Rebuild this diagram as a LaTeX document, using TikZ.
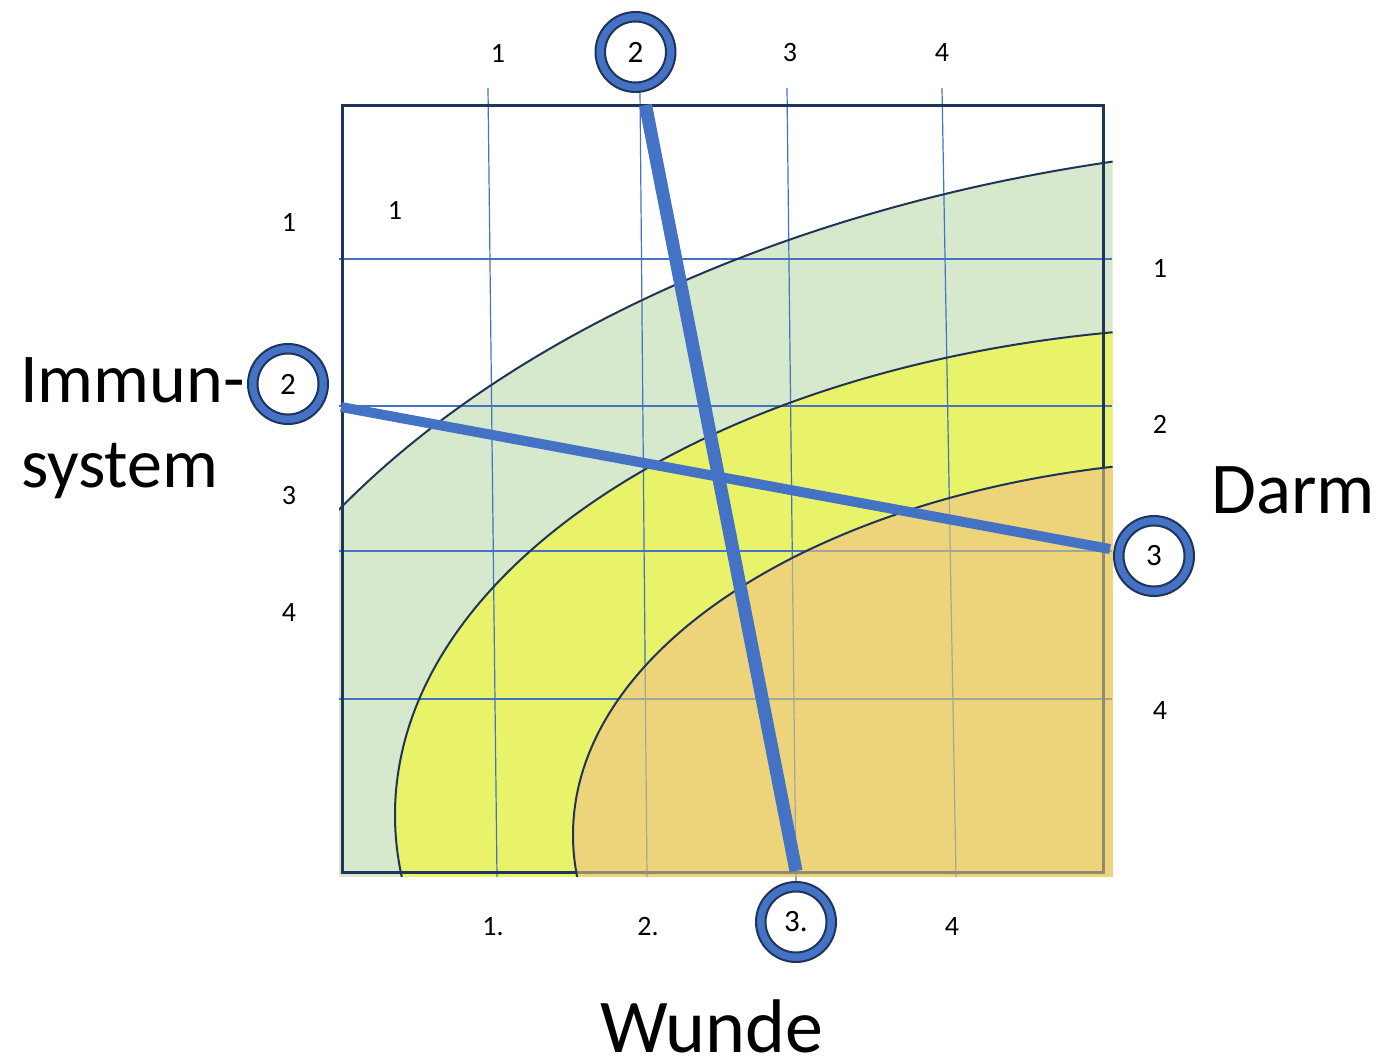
\documentclass[tikz,border=0pt]{standalone}
\usepackage{fontspec}
\setmainfont{Carlito}
\definecolor{navy}{HTML}{1F3458}
\definecolor{ablue}{HTML}{4472C4}
\definecolor{lgreen}{HTML}{D6E9CC}
\definecolor{lyellow}{HTML}{E9F36A}
\definecolor{lorange}{HTML}{EDD37A}
\begin{document}
\begin{tikzpicture}[x=1pt,y=-1pt,
  lab/.style={font=\fontsize{28}{33}\selectfont, inner sep=0pt},
  big/.style={font=\fontsize{70}{84}\selectfont, inner sep=0pt, anchor=base west},
  gridline/.style={ablue, line width=1.2pt},
  curve/.style={navy, line width=2pt},
  ringout/.style={circle, draw=navy, line width=2pt, fill=ablue, minimum size=80pt, inner sep=0pt},
  ringin/.style={circle, draw=navy, line width=2pt, fill=white, minimum size=61pt, inner sep=0pt, font=\fontsize{31}{36}\selectfont},
  outerell/.style={insert path={(1400,900) ellipse [x radius=1237pt, y radius=759pt]}},
  midell/.style={insert path={(1250,815) ellipse [x radius=855pt, y radius=489pt]}},
  innerell/.style={insert path={(1250,835) ellipse [x radius=677pt, y radius=376pt]}}]
\useasboundingbox (0,0) rectangle (1387,1062);

% coloured zones
\begin{scope}
  \clip (339,105) rectangle (1112.5,876.5);
  \fill[lgreen] [outerell];
  \fill[lyellow] [midell];
  \fill[lorange] [innerell];
\end{scope}

% grid
\coordinate (v1t) at (488,88);  \coordinate (v1b) at (497,877);
\coordinate (v2t) at (640,90);  \coordinate (v2b) at (647,877);
\coordinate (v3t) at (787,88);  \coordinate (v3b) at (796,882);
\coordinate (v4t) at (942,88);  \coordinate (v4b) at (956,877);
\coordinate (h1l) at (339,259); \coordinate (h1r) at (1112,259);
\coordinate (h2l) at (339,406); \coordinate (h2r) at (1112,406);
\coordinate (h3l) at (339,551); \coordinate (h3r) at (1112,551);
\coordinate (h4l) at (339,699); \coordinate (h4r) at (1112,699);
\draw[gridline] (v1t) -- (v1b);
\draw[gridline] (v2t) -- (v2b);
\draw[gridline] (v3t) -- (v3b);
\draw[gridline] (v4t) -- (v4b);
\draw[gridline] (h1l) -- (h1r);
\draw[gridline] (h2l) -- (h2r);
\draw[gridline] (h3l) -- (h3r);
\draw[gridline] (h4l) -- (h4r);

% frame
\coordinate (fTL) at (342,105.5);
\coordinate (fBR) at (1103,872);
\draw[navy, line width=3pt] (fTL) rectangle (fBR);

% orange overlay and curve outlines
\begin{scope}
  \clip (339,105) rectangle (1112.5,876.5);
  \fill[lorange, opacity=0.55] [innerell];
  \draw[curve] [outerell];
  \draw[curve] [midell];
  \draw[curve] [innerell];
\end{scope}

% thick lines
\coordinate (bL) at (341,407);
\coordinate (bR) at (1110,549);
\coordinate (aT) at (645.5,105);
\coordinate (aB) at (796,871);
\draw[ablue, line width=10pt] (bL) -- (bR);
\draw[ablue, line width=13pt] (aT) -- (aB);

% circles
\node[ringout] (cto) at (635.5,52) {};
\node[ringin]  (cti) at (635.5,52) {2};
\node[ringout] (clo) at (288,384) {};
\node[ringin]  (cli) at (288,384) {2};
\node[ringout] (cro) at (1154,556) {};
\node[ringin]  (cri) at (1154,556) {3};
\node[ringout] (cbo) at (796,922) {};
\node[ringin]  (cbi) at (796,922) {3.};

% axis labels
\node[lab] (t1) at (498,53) {1};
\node[lab] (t3) at (790,53) {3};
\node[lab] (t4) at (942,53) {4};
\node[lab] (l1) at (289,222) {1};
\node[lab] (l3) at (289,496) {3};
\node[lab] (l4) at (289,613) {4};
\node[lab] (i1) at (395,210) {1};
\node[lab] (r1) at (1160,268) {1};
\node[lab] (r2) at (1160,424) {2};
\node[lab] (r4) at (1160,711) {4};
\node[lab] (b1) at (493,927) {1.};
\node[lab] (b2) at (648,927) {2.};
\node[lab] (b4) at (952,927) {4};

% big labels
\node[big] (imm) at (20,402) {Immun-};
\node[big] (sys) at (21,487) {system};
\node[big, font=\fontsize{73}{88}\selectfont] (darm) at (1211,513) {Darm};
\node[big, font=\fontsize{76}{91}\selectfont] (wunde) at (600,1052) {Wunde};
\end{tikzpicture}
\end{document}
